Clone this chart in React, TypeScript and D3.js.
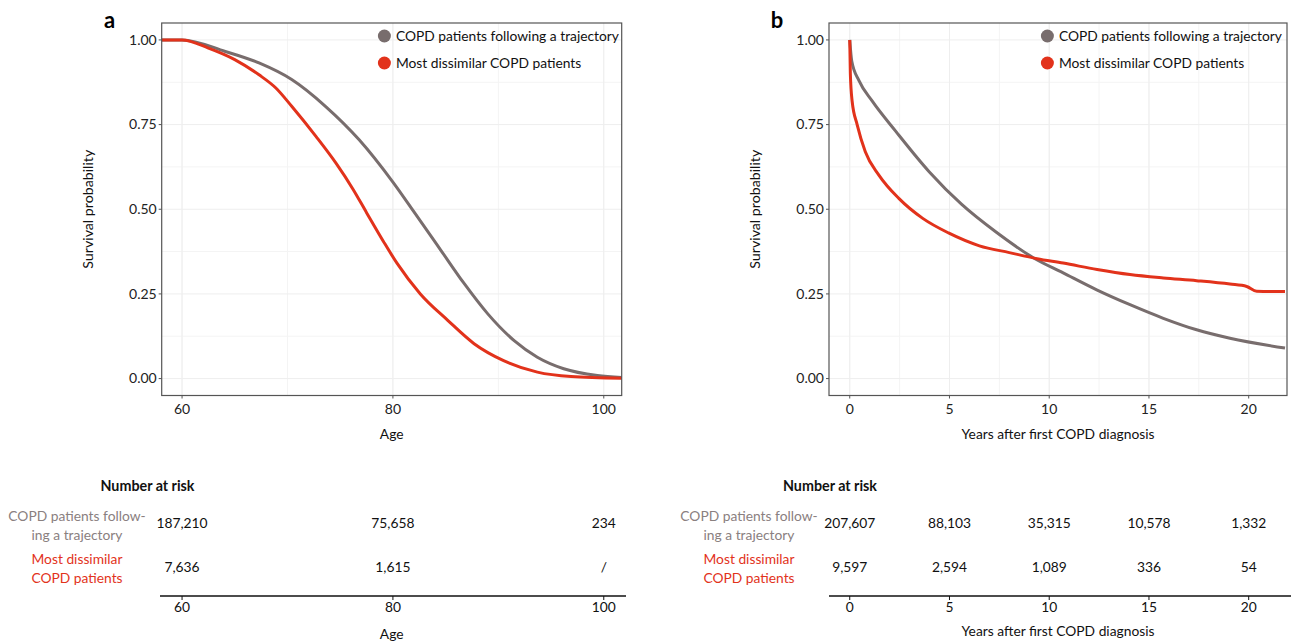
import React from 'react';
import * as d3 from 'd3';

// ---- data ----
// panel a: survival by age
const trajectoryA: [number, number][] = [
  [58.07, 1], [60, 1], [64.1, 0.966], [67.3, 0.932], [70.4, 0.883], [73.6, 0.804],
  [76.8, 0.705], [80, 0.58], [82, 0.492], [84.5, 0.381], [86.7, 0.283], [89, 0.191],
  [91.5, 0.112], [93.7, 0.063], [96.2, 0.029], [99.4, 0.009], [101.7, 0.003],
];
const dissimilarA: [number, number][] = [
  [58.07, 1], [60, 1], [62.5, 0.976], [65, 0.942], [67.3, 0.897], [68.9, 0.858],
  [70.4, 0.804], [72.7, 0.715], [74.6, 0.636], [76.2, 0.56], [77.5, 0.49],
  [79.1, 0.405], [80.4, 0.34], [82.6, 0.25], [85.2, 0.172], [87.7, 0.103],
  [90.5, 0.053], [93.7, 0.019], [96.9, 0.006], [101.7, 0.001],
];
// panel b: survival by years after first diagnosis
const trajectoryB: [number, number][] = [
  [0, 1], [0.1, 0.938], [0.47, 0.879], [1.13, 0.819], [2.31, 0.73], [3.98, 0.611],
  [5.6, 0.515], [7.35, 0.432], [9.2, 0.357], [10.7, 0.312], [12.38, 0.262],
  [14.05, 0.218], [15.72, 0.178], [17.39, 0.144], [19.06, 0.119], [21.82, 0.09],
];
const dissimilarB: [number, number][] = [
  [0, 1], [0.03, 0.9], [0.12, 0.819], [0.37, 0.75], [0.78, 0.67], [1.46, 0.601],
  [2.46, 0.532], [3.66, 0.473], [4.95, 0.43], [6.5, 0.392], [8, 0.372], [9.39, 0.354],
  [10.7, 0.341], [12.4, 0.322], [14.05, 0.307], [15.72, 0.297], [17.39, 0.289],
  [19.06, 0.279], [19.9, 0.272], [20.4, 0.258], [21.82, 0.257],
];

const yTicks = [0, 0.25, 0.5, 0.75, 1];
const ageTicks = [60, 80, 100];
const yearTicks = [0, 5, 10, 15, 20];

const legendLabels = ['COPD patients following a trajectory', 'Most dissimilar COPD patients'];
const riskTrajA = ['187,210', '75,658', '234'];
const riskDissA = ['7,636', '1,615', '/'];
const riskTrajB = ['207,607', '88,103', '35,315', '10,578', '1,332'];
const riskDissB = ['9,597', '2,594', '1,089', '336', '54'];

const GREY = '#786d6d';
const RED = '#e2321b';
const FONT = 'Lato, "Open Sans", sans-serif';
const FS = 13.8;

const top = 23;
const bottom = 395.5;
const y = d3.scaleLinear().domain([-0.05, 1.05]).range([bottom, top]);

type PanelProps = {
  letter: string;
  x: d3.ScaleLinear<number, number>;
  ticks: number[];
  minorStep: number;
  title: string;
  trajectory: [number, number][];
  dissimilar: [number, number][];
  legendX: number;
  riskTraj: string[];
  riskDiss: string[];
  riskTitleX: number;
  rowLabelX: number;
  tableLine: [number, number];
  tableTitleY: number;
};

const Panel = (p: PanelProps) => {
  const [x0, x1] = p.x.range();
  const line = d3
    .line<[number, number]>()
    .x((d) => p.x(d[0]))
    .y((d) => y(d[1]))
    .curve(d3.curveMonotoneX);

  const [d0, d1] = p.x.domain();
  const minorX = d3.range(Math.ceil(d0 / p.minorStep) * p.minorStep, d1, p.minorStep);
  const minorY = d3.range(-0.125, 1.05, 0.25).filter((v) => v > -0.05);

  return (
    <g fontFamily={FONT}>
      {/* grid */}
      {minorX.map((v) => (
        <line key={'mx' + v} x1={p.x(v)} x2={p.x(v)} y1={top} y2={bottom} stroke="#f4f4f4" strokeWidth={1} />
      ))}
      {minorY.map((v) => (
        <line key={'my' + v} x1={x0} x2={x1} y1={y(v)} y2={y(v)} stroke="#f4f4f4" strokeWidth={1} />
      ))}
      {p.ticks.map((v) => (
        <line key={'gx' + v} x1={p.x(v)} x2={p.x(v)} y1={top} y2={bottom} stroke="#eeeeee" strokeWidth={1} />
      ))}
      {yTicks.map((v) => (
        <line key={'gy' + v} x1={x0} x2={x1} y1={y(v)} y2={y(v)} stroke="#eeeeee" strokeWidth={1} />
      ))}

      {/* curves */}
      <path d={line(p.trajectory) || ''} fill="none" stroke={GREY} strokeWidth={3} />
      <path d={line(p.dissimilar) || ''} fill="none" stroke={RED} strokeWidth={3} />

      {/* frame */}
      <rect x={x0} y={top} width={x1 - x0} height={bottom - top} fill="none" stroke="#555" strokeWidth={1.2} />

      {/* y axis */}
      {yTicks.map((v) => (
        <g key={'yt' + v}>
          <line x1={x0 - 3} x2={x0} y1={y(v)} y2={y(v)} stroke="#555" />
          <text x={x0 - 5} y={y(v)} dy="0.35em" textAnchor="end" fontSize={14} fill="#222">
            {d3.format('.2f')(v)}
          </text>
        </g>
      ))}
      <text
        transform={`translate(${x0 - 69},${(top + bottom) / 2}) rotate(-90)`}
        textAnchor="middle"
        fontSize={FS + 0.4}
        fill="#111"
      >
        Survival probability
      </text>

      {/* x axis */}
      {p.ticks.map((v) => (
        <g key={'xt' + v}>
          <line x1={p.x(v)} x2={p.x(v)} y1={bottom} y2={bottom + 3} stroke="#555" />
          <text x={p.x(v)} y={bottom + 18} textAnchor="middle" fontSize={14} fill="#222">
            {v}
          </text>
        </g>
      ))}
      <text x={(x0 + x1) / 2} y={bottom + 43} textAnchor="middle" fontSize={FS} fill="#111">
        {p.title}
      </text>

      {/* panel letter */}
      <text x={x0 - 52} y={28} textAnchor="middle" fontSize={22} fontWeight="bold" fill="#000">
        {p.letter}
      </text>

      {/* legend */}
      {[GREY, RED].map((c, i) => (
        <g key={'lg' + i}>
          <circle cx={p.legendX} cy={36 + i * 27} r={6.5} fill={c} />
          <text x={p.legendX + 11.5} y={36 + i * 27} dy="0.35em" fontSize={FS} fill="#111">
            {legendLabels[i]}
          </text>
        </g>
      ))}

      {/* number at risk table */}
      <text x={p.riskTitleX} y={486} dy="0.35em" textAnchor="middle" fontSize={FS + 0.5} fontWeight="bold" fill="#111">
        Number at risk
      </text>
      <text x={p.rowLabelX} y={516} dy="0.35em" textAnchor="middle" fontSize={FS} fill="#8a8080">
        COPD patients follow-
      </text>
      <text x={p.rowLabelX} y={535} dy="0.35em" textAnchor="middle" fontSize={FS} fill="#8a8080">
        ing a trajectory
      </text>
      <text x={p.rowLabelX} y={559} dy="0.35em" textAnchor="middle" fontSize={FS} fill={RED}>
        Most dissimilar
      </text>
      <text x={p.rowLabelX} y={578} dy="0.35em" textAnchor="middle" fontSize={FS} fill={RED}>
        COPD patients
      </text>
      {p.ticks.map((v, i) => (
        <g key={'rk' + v}>
          <text x={p.x(v)} y={523} dy="0.35em" textAnchor="middle" fontSize={FS} fill="#111">
            {p.riskTraj[i]}
          </text>
          <text x={p.x(v)} y={567} dy="0.35em" textAnchor="middle" fontSize={FS} fill="#111">
            {p.riskDiss[i]}
          </text>
          <line x1={p.x(v)} x2={p.x(v)} y1={596} y2={600} stroke="#111" />
          <text x={p.x(v)} y={607} dy="0.35em" textAnchor="middle" fontSize={FS} fill="#111">
            {v}
          </text>
        </g>
      ))}
      <line x1={p.tableLine[0]} x2={p.tableLine[1]} y1={596} y2={596} stroke="#111" strokeWidth={1.3} />
      <text x={(x0 + x1) / 2} y={p.tableTitleY} dy="0.35em" textAnchor="middle" fontSize={FS} fill="#111">
        {p.title}
      </text>
    </g>
  );
};

const App = () => {
  const xA = d3.scaleLinear().domain([58.07, 101.7]).range([161.7, 621.7]);
  const xB = d3.scaleLinear().domain([-1.04, 21.92]).range([829, 1287]);
  return (
    <svg
      width={1291}
      height={641}
      style={{ position: 'absolute', left: 0, top: 0, background: '#fff' }}
    >
      <Panel
        letter="a"
        x={xA}
        ticks={ageTicks}
        minorStep={10}
        title="Age"
        trajectory={trajectoryA}
        dissimilar={dissimilarA}
        legendX={384.4}
        riskTraj={riskTrajA}
        riskDiss={riskDissA}
        riskTitleX={147.5}
        rowLabelX={77}
        tableLine={[160, 626]}
        tableTitleY={634}
      />
      <Panel
        letter="b"
        x={xB}
        ticks={yearTicks}
        minorStep={2.5}
        title="Years after first COPD diagnosis"
        trajectory={trajectoryB}
        dissimilar={dissimilarB}
        legendX={1047.4}
        riskTraj={riskTrajB}
        riskDiss={riskDissB}
        riskTitleX={830}
        rowLabelX={749}
        tableLine={[829, 1291]}
        tableTitleY={631}
      />
    </svg>
  );
};

export default App;
